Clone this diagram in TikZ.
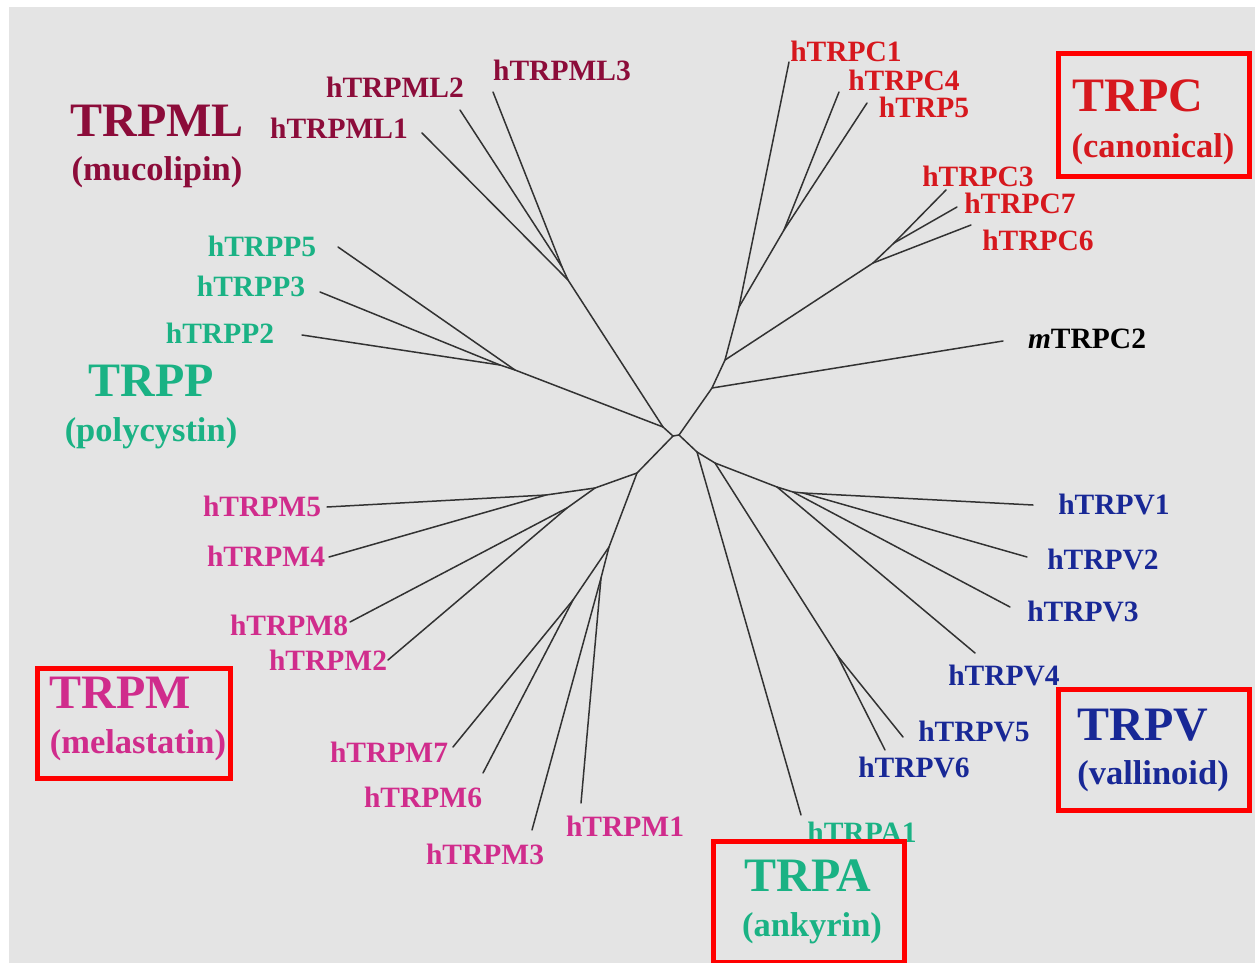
\documentclass[tikz,border=0pt]{standalone}
\usepackage{fontspec}
\setmainfont{Liberation Serif}
\definecolor{bgc}{RGB}{228,228,228}
\definecolor{mlc}{RGB}{140,12,58}
\definecolor{tcc}{RGB}{214,24,30}
\definecolor{ppc}{RGB}{26,178,132}
\definecolor{mmc}{RGB}{208,44,140}
\definecolor{vvc}{RGB}{24,40,150}
\definecolor{brc}{RGB}{50,50,50}
\definecolor{boxc}{RGB}{255,0,0}
\tikzset{
  leaf/.style={inner sep=0pt, font=\fontsize{29.5}{29.5}\selectfont\bfseries, text height=20pt, text depth=0pt},
  family/.style={inner sep=0pt, font=\fontsize{48}{48}\selectfont\bfseries, text height=32pt, text depth=0pt},
  subtitle/.style={inner sep=0pt, font=\fontsize{34.5}{34.5}\selectfont\bfseries, text height=23pt, text depth=0pt},
  branch/.style={draw=brc, line width=1.5pt, line cap=round, line join=round},
  groupbox/.style={draw=boxc, line width=5pt}
}
\begin{document}
\begin{tikzpicture}[x=1pt,y=-1pt]
% canvas
\fill[white] (0,0) rectangle (1255,963);
\fill[bgc] (9,7) rectangle (1255,963);
\useasboundingbox (0,0) rectangle (1255,963);

% ---- tree: inner nodes ----
\coordinate (R1) at (673,436);
\coordinate (R2) at (679,435);
\coordinate (P) at (663,427);
\coordinate (MLj) at (568,280);
\coordinate (ML23) at (562,267);
\coordinate (PPj) at (515,370);
\coordinate (PP23) at (500,365);
\coordinate (Mj) at (637,473);
\coordinate (Ma) at (595,488);
\coordinate (M54) at (546,495);
\coordinate (M82) at (567,508);
\coordinate (Mb) at (609,547);
\coordinate (M76) at (573,600);
\coordinate (M31) at (601,578);
\coordinate (T1) at (712,388);
\coordinate (T2) at (725,360);
\coordinate (T3) at (739,307);
\coordinate (T4) at (784,230);
\coordinate (T5) at (873,263);
\coordinate (T6) at (894,243);
\coordinate (A) at (697,452);
\coordinate (V0) at (715,463);
\coordinate (V56) at (837,655);
\coordinate (V4j) at (777,487);
\coordinate (V13) at (793,492);
\coordinate (V12) at (803,493);

% ---- tree: leaf ends ----
\coordinate (ml1) at (422,133);
\coordinate (ml2) at (460,110);
\coordinate (ml3) at (493,92);
\coordinate (pp5) at (338,247);
\coordinate (pp3) at (320,292);
\coordinate (pp2) at (302,335);
\coordinate (m5) at (327,507);
\coordinate (m4) at (329,557);
\coordinate (m8) at (350,622);
\coordinate (m2) at (388,660);
\coordinate (m7) at (453,747);
\coordinate (m6) at (483,773);
\coordinate (m3) at (532,830);
\coordinate (m1) at (581,803);
\coordinate (c1) at (789,62);
\coordinate (c4) at (839,92);
\coordinate (c5) at (867,103);
\coordinate (c3) at (946,190);
\coordinate (c7) at (957,207);
\coordinate (c6) at (971,225);
\coordinate (c2) at (1003,341);
\coordinate (a1) at (801,815);
\coordinate (v1) at (1033,505);
\coordinate (v2) at (1027,557);
\coordinate (v3) at (1010,607);
\coordinate (v4) at (975,653);
\coordinate (v5) at (903,737);
\coordinate (v6) at (885,750);

% ---- branches ----
\draw[branch] (R1) -- (R2);
% TRPML and TRPP
\draw[branch] (R1) -- (P);
\draw[branch] (P) -- (MLj) -- (ml1);
\draw[branch] (MLj) -- (ML23) -- (ml2);
\draw[branch] (ML23) -- (ml3);
\draw[branch] (P) -- (PPj) -- (pp5);
\draw[branch] (PPj) -- (PP23) -- (pp3);
\draw[branch] (PP23) -- (pp2);
% TRPM
\draw[branch] (R1) -- (Mj) -- (Ma) -- (M54) -- (m5);
\draw[branch] (M54) -- (m4);
\draw[branch] (Ma) -- (M82) -- (m8);
\draw[branch] (M82) -- (m2);
\draw[branch] (Mj) -- (Mb) -- (M76) -- (m7);
\draw[branch] (M76) -- (m6);
\draw[branch] (Mb) -- (M31) -- (m3);
\draw[branch] (M31) -- (m1);
% TRPC
\draw[branch] (R2) -- (T1) -- (c2);
\draw[branch] (T1) -- (T2) -- (T3) -- (c1);
\draw[branch] (T3) -- (T4) -- (c4);
\draw[branch] (T4) -- (c5);
\draw[branch] (T2) -- (T5) -- (c6);
\draw[branch] (T5) -- (T6) -- (c3);
\draw[branch] (T6) -- (c7);
% TRPA and TRPV
\draw[branch] (R2) -- (A) -- (a1);
\draw[branch] (A) -- (V0) -- (V56) -- (v5);
\draw[branch] (V56) -- (v6);
\draw[branch] (V0) -- (V4j) -- (v4);
\draw[branch] (V4j) -- (V13) -- (v3);
\draw[branch] (V13) -- (V12) -- (v1);
\draw[branch] (V12) -- (v2);

% ---- TRPML ----
\node[leaf, mlc] (lml3) at (562,71) {hTRPML3};
\node[leaf, mlc] (lml2) at (395,88) {hTRPML2};
\node[leaf, mlc] (lml1) at (339,129) {hTRPML1};
\node[family, mlc] (gml) at (157,120) {TRPML};
\node[subtitle, mlc] (sml) at (157,169) {(mucolipin)};

% ---- TRPP ----
\node[leaf, ppc] (lpp5) at (262,246) {hTRPP5};
\node[leaf, ppc] (lpp3) at (251,286) {hTRPP3};
\node[leaf, ppc] (lpp2) at (220,333) {hTRPP2};
\node[family, ppc] (gpp) at (151,380) {TRPP};
\node[subtitle, ppc] (spp) at (151,430) {(polycystin)};

% ---- TRPC ----
\node[leaf, tcc] (lc1) at (846,52) {hTRPC1};
\node[leaf, tcc] (lc4) at (904,81) {hTRPC4};
\node[leaf, tcc] (lc5) at (924,108) {hTRP5};
\node[leaf, tcc] (lc3) at (978,176) {hTRPC3};
\node[leaf, tcc] (lc7) at (1020,203) {hTRPC7};
\node[leaf, tcc] (lc6) at (1038,240) {hTRPC6};
\node[leaf, black] (lc2) at (1087,338) {\textit{m}TRPC2};
\node[family, tcc] (gc) at (1138,96) {TRPC};
\node[subtitle, tcc] (sc) at (1153,146) {(canonical)};
\draw[groupbox] (1058,54) rectangle (1249,176);

% ---- TRPM ----
\node[leaf, mmc] (lm5) at (262,506) {hTRPM5};
\node[leaf, mmc] (lm4) at (266,556) {hTRPM4};
\node[leaf, mmc] (lm8) at (289,625) {hTRPM8};
\node[leaf, mmc] (lm2) at (328,660) {hTRPM2};
\node[leaf, mmc] (lm7) at (389,752) {hTRPM7};
\node[leaf, mmc] (lm6) at (423,797) {hTRPM6};
\node[leaf, mmc] (lm1) at (625,826) {hTRPM1};
\node[leaf, mmc] (lm3) at (485,854) {hTRPM3};
\node[family, mmc] (gm) at (120,692) {TRPM};
\node[subtitle, mmc] (sm) at (138,742) {(melastatin)};
\draw[groupbox] (37,668) rectangle (230,778);

% ---- TRPV ----
\node[leaf, vvc] (lv1) at (1114,504) {hTRPV1};
\node[leaf, vvc] (lv2) at (1103,559) {hTRPV2};
\node[leaf, vvc] (lv3) at (1083,611) {hTRPV3};
\node[leaf, vvc] (lv4) at (1004,675) {hTRPV4};
\node[leaf, vvc] (lv5) at (974,731) {hTRPV5};
\node[leaf, vvc] (lv6) at (914,767) {hTRPV6};
\node[family, vvc] (gv) at (1143,724) {TRPV};
\node[subtitle, vvc] (sv) at (1153,773) {(vallinoid)};
\draw[groupbox] (1058,689) rectangle (1249,810);

% ---- TRPA ----
\node[leaf, ppc] (la1) at (862,832) {hTRPA1};
\node[family, ppc] (ga) at (808,875) {TRPA};
\node[subtitle, ppc] (sa) at (812,925) {(ankyrin)};
\draw[groupbox] (713,841) rectangle (904,962);
\end{tikzpicture}
\end{document}
